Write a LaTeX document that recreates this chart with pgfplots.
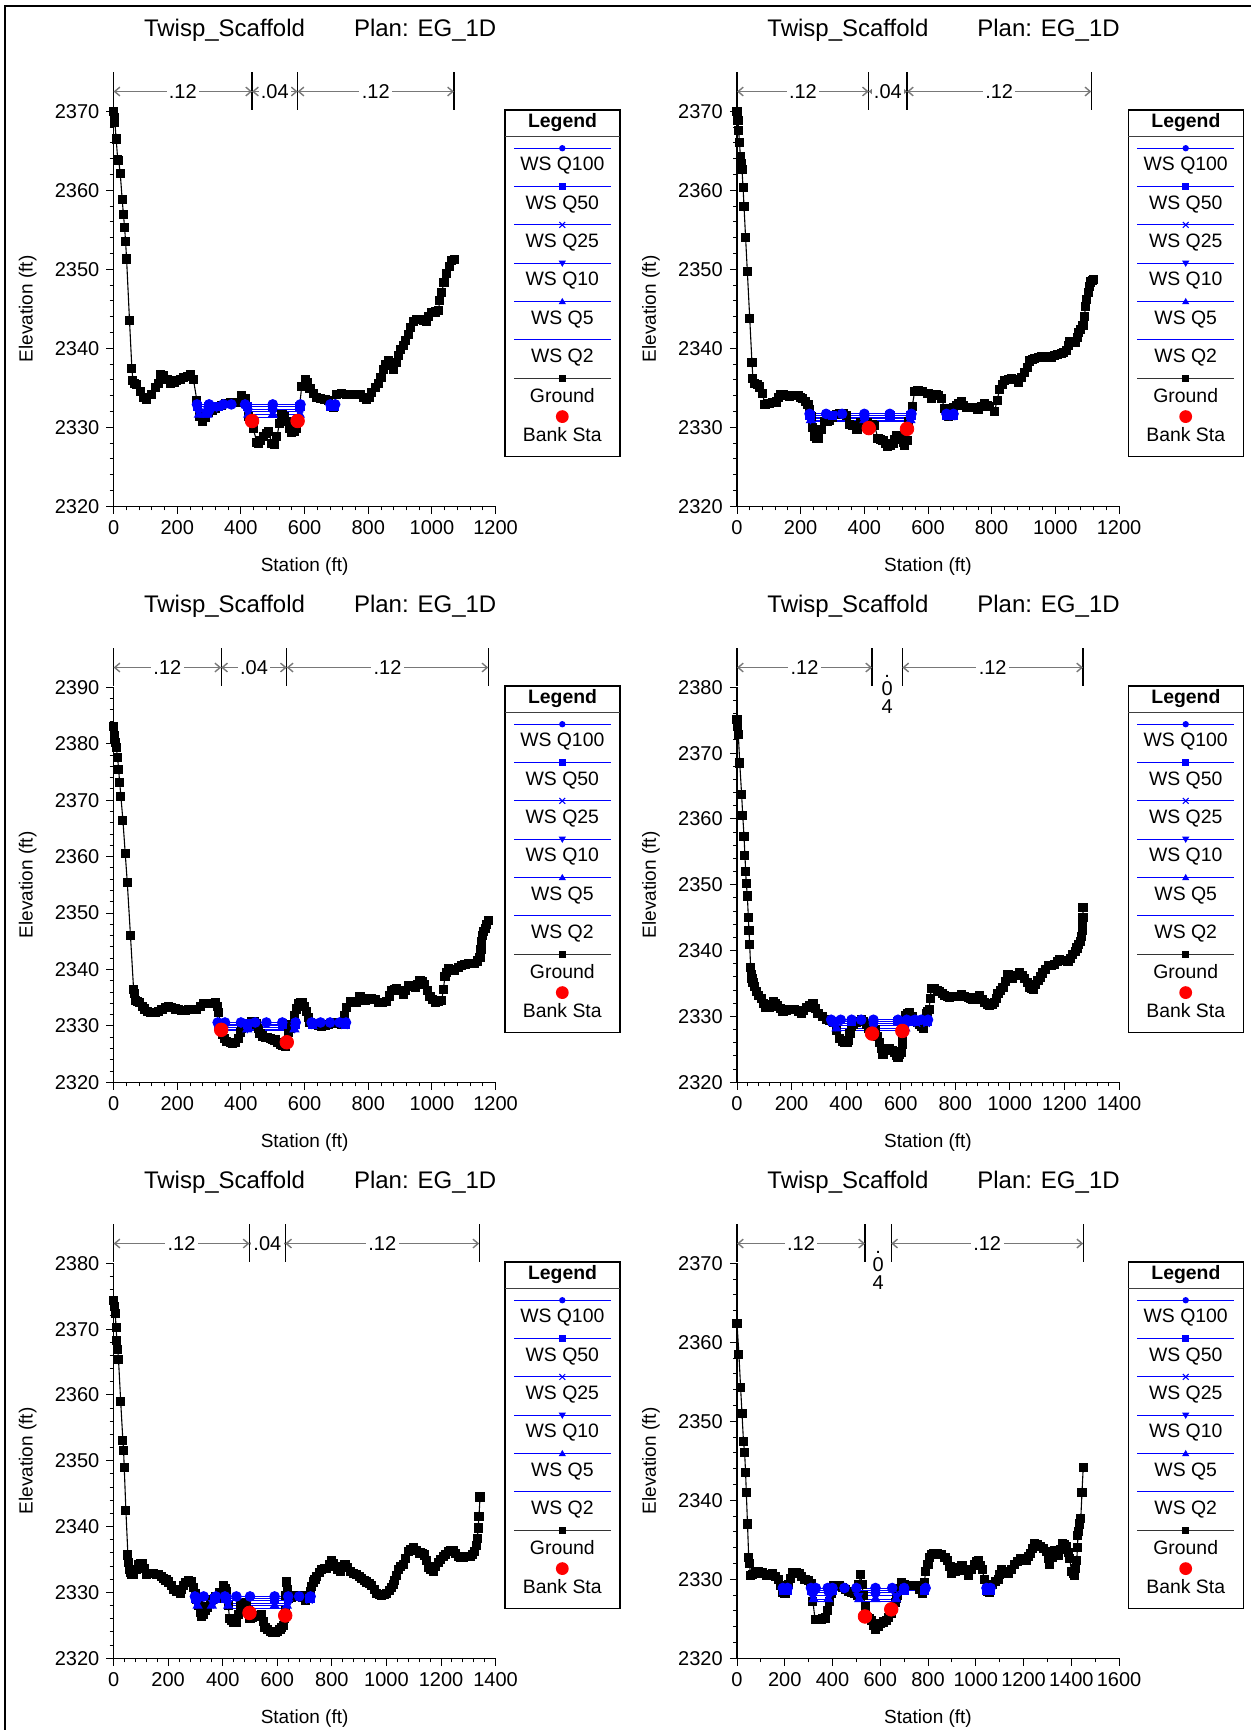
\documentclass[border=0pt]{standalone}
\usepackage{fontspec}
\setmainfont{Liberation Sans}
\usepackage{pgfplots}
\pgfplotsset{compat=1.18}
\usetikzlibrary{arrows.meta}

\definecolor{wsblue}{RGB}{0,0,255}
\definecolor{ngray}{RGB}{120,120,120}

\pgfplotsset{
  hec/.style={
    scale only axis, width=191pt, height=197.5pt,
    anchor=south west,
    axis lines*=left,
    xmin=0, ymin=2320,
    xtick distance=200, ytick distance=10,
    minor x tick num=4, minor y tick num=4,
    tick align=outside,
    major tick length=3.6pt, minor tick length=2pt,
    tick style={black, line width=0.5pt},
    axis line style={black, line width=0.6pt},
    ticklabel style={font=\fontsize{10}{12}\selectfont},
    /pgf/number format/assume math mode=true,
    /pgf/number format/1000 sep={},
    scaled ticks=false,
    xlabel={Station (ft)}, ylabel={Elevation (ft)},
    label style={font=\fontsize{9.5}{11}\selectfont},
    xlabel style={at={(axis description cs:0.5,-0.1537)}, anchor=center},
    ylabel style={at={(axis description cs:-0.2251,0.5)}, anchor=center},
    clip=false,
    unbounded coords=jump,
  },
  ground/.style={black, line width=0.55pt, mark=square*, mark size=2pt, mark options={solid}},
  bank/.style={only marks, mark=*, mark size=3.4pt, color=red},
  ws/.style={wsblue, line width=0.5pt, mark options={solid, fill=wsblue}},
  q100/.style={ws, mark=*, mark size=2.4pt},
  q50/.style={ws, mark=square*, mark size=2.1pt},
  q25/.style={ws, mark=x, mark size=2.2pt},
  q10/.style={ws, mark=triangle*, mark size=2.5pt, mark options={solid, fill=wsblue, rotate=180}},
  q5/.style={ws, mark=triangle*, mark size=2.5pt},
  q2/.style={ws, mark=none},
}
\tikzset{
  nline/.style={draw=ngray, line width=0.7pt,
    {Straight Barb[length=2.6pt,width=4.4pt]}-{Straight Barb[length=2.6pt,width=4.4pt]}},
  ntext/.style={fill=white, inner sep=1.2pt, text=black, font=\fontsize{10}{12}\selectfont},
}

% n-value boundary bar: station, ymax
\newcommand{\nbar}[2]{\draw[black, line width=0.6pt] ([yshift=0.7pt]axis cs:#1,#2) -- ([yshift=19.8pt]axis cs:#1,#2);}
% n-value section arrow: from, to, ymax, label
\newcommand{\nsec}[4]{\draw[nline] ([yshift=9.9pt]axis cs:#1,#3) -- node[ntext]{#4} ([yshift=9.9pt]axis cs:#2,#3);}
% narrow section, label stacked: centre station, ymax
\newcommand{\nnarrow}[2]{%
  \node[anchor=base, inner sep=0pt, font=\fontsize{10}{12}\selectfont] at ([yshift=4.9pt]axis cs:#1,#2) {.};
  \node[anchor=base, inner sep=0pt, font=\fontsize{10}{12}\selectfont] at ([yshift=-4.1pt]axis cs:#1,#2) {0};
  \node[anchor=base, inner sep=0pt, font=\fontsize{10}{12}\selectfont] at ([yshift=-13.1pt]axis cs:#1,#2) {4};}

\newcommand{\hectitle}[1]{%
  \node[anchor=base west, inner sep=0pt, font=\fontsize{12}{14}\selectfont] at ([xshift=15pt,yshift=37.3pt]#1.north west) {Twisp\_Scaffold};
  \node[anchor=base west, inner sep=0pt, font=\fontsize{12}{14}\selectfont] at ([xshift=120pt,yshift=37.3pt]#1.north west) {Plan: EG\_1D};}

\newcommand{\lgline}[2]{\draw[#2, line width=0.5pt] (4.5pt,-#1pt) -- (52.85pt,-#1pt);}
\newcommand{\lgtext}[2]{\node at (28.65pt,-#1pt) {#2};}

\newcommand{\heclegend}[1]{%
\begin{scope}[shift={(#1.north east)}, xshift=4.7pt, yshift=0.7pt, font=\fontsize{9.7}{11}\selectfont]
  \fill[white] (0,0) rectangle (57.5pt,-173.3pt);
  \draw[black, line width=0.6pt] (0,0) rectangle (57.5pt,-173.3pt);
  \draw[black!75, line width=0.6pt] (0,-13.35pt) -- (57.5pt,-13.35pt);
  \node[font=\bfseries\fontsize{9.7}{11}\selectfont] at (28.75pt,-6.3pt) {Legend};
  \lgline{19.15}{wsblue}  \fill[wsblue] (28.65pt,-19.15pt) circle (1.6pt);
  \lgtext{28}{WS Q100}
  \lgline{38.32}{wsblue}  \fill[wsblue] (27pt,-36.67pt) rectangle (30.3pt,-39.97pt);
  \lgtext{47.17}{WS Q50}
  \lgline{57.49}{wsblue}  \draw[wsblue, line width=0.5pt] (27.2pt,-56.04pt) -- (30.1pt,-58.94pt) (27.2pt,-58.94pt) -- (30.1pt,-56.04pt);
  \lgtext{66.34}{WS Q25}
  \lgline{76.66}{wsblue}  \fill[wsblue] (26.85pt,-75.4pt) -- (30.45pt,-75.4pt) -- (28.65pt,-78.5pt) -- cycle;
  \lgtext{85.51}{WS Q10}
  \lgline{95.83}{wsblue}  \fill[wsblue] (26.85pt,-97.1pt) -- (30.45pt,-97.1pt) -- (28.65pt,-94pt) -- cycle;
  \lgtext{104.68}{WS Q5}
  \lgline{115.0}{wsblue}
  \lgtext{123.85}{WS Q2}
  \lgline{134.17}{black!80}  \fill[black] (27pt,-132.52pt) rectangle (30.3pt,-135.82pt);
  \lgtext{143.02}{Ground}
  \fill[red] (28.65pt,-153.34pt) circle (3.2pt);
  \lgtext{162.19}{Bank Sta}
\end{scope}}

\begin{document}
\begin{tikzpicture}
\useasboundingbox (0,0) rectangle (625.5pt,-865pt);
\draw[black, line width=1pt] (2.5pt,-865pt) -- (2.5pt,-3pt) -- (625.5pt,-3pt);

% ---------------- panel 1 ----------------
\begin{axis}[hec, name=p1, at={(56.8pt,-253.15pt)}, xmax=1200, ymax=2370]
\addplot[ground] coordinates {
(0,2370)(2,2369.2)(4,2368.6)(8,2366.5)(13,2363.9)(16,2363.8)(21,2362.1)(27,2358.8)(31,2356.9)(34.5,2355.3)
(37.7,2353.5)(40.8,2351.3)(50,2343.5)(57.5,2337.4)(60.7,2335.9)(66,2335.6)(73,2335.4)(85,2334.5)(94,2333.8)
(104.6,2333.5)(118,2334.2)(131,2335.0)(140,2335.6)(146.5,2336.7)(157,2336.6)(168,2336)(178,2335.6)(190,2335.7)
(199,2335.9)(210,2336.1)(220,2336.3)(232,2336.4)(241,2336.7)(251,2336.0)(261.6,2333.4)(269,2331.4)(278,2330.7)
(288,2331.3)(298,2331.9)(309,2332.1)(319,2332.4)(330,2332.6)(340,2332.8)(353,2333)(366,2333.1)(377,2333.1)
(387,2333.1)(403,2334.0)(413,2333.6)(424,2331.4)(439,2329.8)(450,2328.1)(455,2327.9)(462,2328.3)(471,2328.8)
(480,2329.2)(487,2329.5)(497,2327.9)(505,2327.8)(513,2328.8)(521,2330.5)(529,2331.6)(536,2331.4)(544,2330.7)
(552,2329.9)(560,2329.3)(568,2329.5)(575,2329.8)(584,2332.6)(591,2335.2)(601.6,2336.0)(610,2335.7)(617,2334.9)
(627,2334.3)(638,2333.8)(650,2333.6)(664,2333.5)(675,2333.4)(683,2332.6)(692,2332.5)(701,2334.2)(715,2334.3)
(732,2334.2)(752,2334.1)(774,2334.1)(785,2333.8)(795,2333.5)(803,2333.8)(811,2334.4)(822,2335)(832,2335.6)
(840,2336.3)(847.5,2337.3)(855,2338)(863,2338.4)(871,2337.8)(879,2337.3)(887,2338.2)(894.5,2339.1)(902,2339.8)
(910,2340.3)(918,2341)(926,2341.7)(934,2342.6)(942,2343.4)(952,2343.6)(963,2343.6)(973,2343.5)(983,2343.4)
(990,2344)(999,2344.5)(1010,2344.6)(1020,2344.8)(1025,2346)(1030,2347.1)(1038,2348.3)(1046,2349.5)(1054,2350.4)
(1062,2351.1)(1072,2351.2)};
\addplot[q2] coordinates {(270,2331.2)(280,2331.2)(285,nan)(425,2331.2)(585,2331.2)};
\addplot[q5] coordinates {(268,2331.6)(285,2331.6)(295,2331.6)(300,nan)(423,2331.6)(500,2331.6)(585,2331.6)};
\addplot[q10] coordinates {(267,2332.0)(290,2332.0)(305,2332.0)(310,nan)(422,2332.0)(500,2332.0)(585,2332.0)};
\addplot[q25] coordinates {(266,2332.3)(290,2332.3)(316,2332.3)(320,nan)(421,2332.3)(500,2332.3)(586,2332.3)};
\addplot[q50] coordinates {(264,2332.6)(300,2332.6)(330,2332.6)(335,nan)(420,2332.6)(500,2332.6)(586,2332.6)(600,nan)(683,2332.6)(694,2332.6)};
\addplot[q100] coordinates {(262,2332.9)(300,2332.9)(345,2332.9)(370,2332.9)(413,2332.9)(500,2332.9)(587,2332.9)(600,nan)(681,2332.9)(696,2332.9)};
\addplot[bank] coordinates {(435,2330.8)(578,2330.8)};
\nbar{0}{2370}\nbar{435}{2370}\nbar{578}{2370}\nbar{1069}{2370}
\nsec{0}{435}{2370}{.12}\nsec{435}{578}{2370}{.04}\nsec{578}{1069}{2370}{.12}
\end{axis}

% ---------------- panel 2 ----------------
\begin{axis}[hec, name=p2, at={(368.5pt,-253.15pt)}, xmax=1200, ymax=2370]
\addplot[ground] coordinates {
(0,2370)(3,2368.8)(5,2367.6)(8,2366)(10.5,2364.3)(13,2363.4)(15.7,2362.6)(19,2360.4)(22,2358)(27,2354)
(32.5,2349.7)(40,2343.8)(47,2338.2)(50,2336.2)(55.5,2335.6)(63,2335.4)(71,2335.1)(79.6,2334.3)(88,2332.9)
(95,2333)(102.6,2333)(113,2333.1)(123.6,2333.2)(130,2333.8)(136,2334.2)(146,2334.1)(155,2334)(165,2333.9)
(178,2334)(191.6,2334)(200,2333.8)(207,2333.6)(215,2333.3)(223,2332.9)(228,2332.2)(233.5,2331.4)(238,2330)
(244,2328.8)(250,2328.6)(256.5,2328.6)(265,2329.7)(275,2330.7)(283,2330.8)(291,2330.9)(300,2331.2)(312,2331.6)
(322,2331.7)(333,2331.8)(343.5,2331.5)(352,2330.3)(364,2330.2)(377,2329.7)(387,2330.6)(401,2330.7)(409,2330.6)
(417,2330.4)(425,2330.3)(432,2330.2)(443,2328.6)(450,2328.5)(458.6,2328.3)(466,2328)(474,2327.6)(482,2327.7)
(490,2327.9)(496,2328.5)(502.6,2329)(509,2328.8)(516,2328.6)(522,2328.1)(527,2327.7)(534,2328.3)(538,2330.7)
(550,2332.6)(558,2334.5)(568.6,2334.6)(584,2334.5)(600,2334.3)(611,2333.6)(618,2334)(626,2334.2)(634,2334)
(642,2333.7)(652,2332.4)(663,2331.4)(673,2332.2)(681,2332.5)(689,2332.8)(697,2333)(705,2333.2)(712,2332.8)
(720,2332.5)(730,2332.5)(741,2332.5)(757,2332.3)(768,2332.6)(778,2333)(786,2332.8)(794,2332.6)(809,2332)
(817,2333.4)(825,2334.8)(833,2335.4)(841,2335.9)(852,2336.1)(862,2336.2)(873,2336)(883,2335.7)(894,2336.3)
(904,2336.9)(912,2337.6)(919,2338.4)(927,2338.6)(935,2338.7)(946,2338.8)(956,2338.9)(967,2338.9)(977,2338.8)
(988,2338.9)(998,2339.1)(1008,2339.2)(1019,2339.4)(1027,2339.5)(1034.6,2339.7)(1040,2340.3)(1045,2340.8)
(1055,2340.8)(1064,2340.8)(1069,2341.4)(1074,2342)(1080,2342.4)(1087,2342.9)(1091,2344)(1095,2345.3)
(1099,2346.2)(1103,2347.1)(1107,2347.8)(1111,2348.4)(1116,2348.6)(1120,2348.7)};
\addplot[q2] coordinates {(233,2330.7)(400,2330.7)(544,2330.7)};
\addplot[q5] coordinates {(232,2330.9)(400,2330.9)(545,2330.9)};
\addplot[q10] coordinates {(231,2331.1)(400,2331.1)(545,2331.1)};
\addplot[q25] coordinates {(230,2331.3)(400,2331.3)(546,2331.3)(600,nan)(661,2331.3)(676,2331.3)};
\addplot[q50] coordinates {(229,2331.5)(300,2331.5)(400,2331.5)(480,2331.5)(547,2331.5)(600,nan)(660,2331.5)(678,2331.5)};
\addplot[q100] coordinates {(228,2331.7)(280,2331.7)(330,2331.7)(400,2331.7)(480,2331.7)(548,2331.7)(600,nan)(658,2331.7)(680,2331.7)};
\addplot[bank] coordinates {(414,2329.9)(534,2329.8)};
\nbar{0}{2370}\nbar{414}{2370}\nbar{534}{2370}\nbar{1113}{2370}
\nsec{0}{414}{2370}{.12}\nsec{414}{534}{2370}{.04}\nsec{534}{1113}{2370}{.12}
\end{axis}

% ---------------- panel 3 ----------------
\begin{axis}[hec, name=p3, at={(56.8pt,-541.15pt)}, xmax=1200, ymax=2390]
\addplot[ground] coordinates {
(0,2383.1)(2,2381.5)(3,2380.7)(6,2380.2)(8.4,2379.3)(12.6,2377.5)(15.7,2375.5)(19,2373.2)(23,2370.6)(29.3,2366.4)
(36.6,2360.5)(43,2355.4)(53,2346)(62.8,2336.5)(65,2335.8)(68,2334.5)(75,2334.4)(81.6,2334.2)(90,2333.5)
(97.3,2333)(106,2332.6)(115,2332.4)(123,2332.3)(131,2332.4)(141,2332.6)(152,2332.9)(162,2333.2)(172.6,2333.4)
(183,2333.2)(193.6,2333)(204,2332.9)(214.5,2332.8)(225,2332.8)(235,2332.9)(248,2332.9)(261.6,2332.9)(272,2333.4)
(282.5,2333.9)(293,2334)(303.4,2333.9)(311,2334)(319,2334.1)(325,2333.4)(329.6,2332.4)(337,2329.9)(342,2328.5)
(347,2327.7)(356,2327.2)(366,2327)(374,2326.9)(382,2327)(392,2327.8)(398,2328.8)(403,2329.6)(410,2329.8)
(418.5,2329.9)(426,2330.3)(434,2330.8)(442,2330.7)(450,2330.4)(455,2329.6)(460,2328.6)(468,2328.2)(476,2328)
(484,2327.9)(491.7,2327.7)(500,2327.6)(507,2327.5)(515,2327.1)(523,2326.7)(531,2326.5)(539,2326.3)(544,2327.3)
(549,2328.9)(555,2329.6)(560,2330.3)(567,2331.9)(574,2333)(580.7,2333.9)(587,2334.1)(594,2334.2)(601,2333.5)
(607,2332.6)(612,2331.5)(617,2330.6)(625,2330.4)(633,2330.3)(643,2330.1)(654,2329.9)(665,2330.1)(675,2330.3)
(686,2330.5)(696,2330.6)(706,2330.5)(717,2330.3)(725,2331.8)(732,2333.2)(743,2334.3)(753,2334.2)(764,2334.2)
(774,2335.2)(782,2334.8)(790,2334.5)(800,2334.7)(811,2334.9)(822,2334.6)(832,2334.2)(845,2334.2)(858,2334.3)
(866,2335.3)(873.6,2336.2)(881,2336.4)(889,2336.6)(900,2336.2)(910,2335.5)(918,2336.3)(926,2337.1)(937,2337)
(947,2336.8)(955,2337.4)(962.5,2338.1)(970,2337.8)(978,2337.4)(986,2336.3)(994,2335.2)(1002,2334.6)(1010,2334.2)
(1020,2334.3)(1030.6,2334.5)(1036,2336.5)(1041,2338.8)(1046,2339.5)(1051.6,2340.1)(1062,2340)(1072,2339.8)
(1083,2340.3)(1093,2340.7)(1104,2340.9)(1114,2341.1)(1125,2341.1)(1135,2341.1)(1143,2341.5)(1151,2342.1)
(1154,2343.5)(1156,2345)(1160,2346)(1163,2346.8)(1167,2347.3)(1172,2348)(1177,2348.6)};
\addplot[q2] coordinates {(337,2329.1)(420,2329.1)(567,2329.1)};
\addplot[q5] coordinates {(335,2329.4)(420,2329.4)(568,2329.4)};
\addplot[q10] coordinates {(333,2329.7)(420,2329.7)(569,2329.7)};
\addplot[q25] coordinates {(331,2330.0)(420,2330.0)(570,2330.0)(600,nan)(630,2330.0)(725,2330.0)};
\addplot[q50] coordinates {(329,2330.3)(420,2330.3)(530,2330.3)(571,2330.3)(600,nan)(624,2330.3)(728,2330.3)};
\addplot[q100] coordinates {(327,2330.6)(350,2330.6)(400,2330.6)(445,2330.6)(480,2330.6)(530,2330.6)(572,2330.6)(600,nan)(622,2330.6)(650,2330.6)(680,2330.6)(710,2330.6)(730,2330.6)};
\addplot[bank] coordinates {(338,2329.3)(544,2327.1)};
\nbar{0}{2390}\nbar{338}{2390}\nbar{544}{2390}\nbar{1177}{2390}
\nsec{0}{338}{2390}{.12}\nsec{338}{544}{2390}{.04}\nsec{544}{1177}{2390}{.12}
\end{axis}

% ---------------- panel 4 ----------------
\begin{axis}[hec, name=p4, at={(368.5pt,-541.15pt)}, xmax=1400, ymax=2380]
\addplot[ground] coordinates {
(0,2375.1)(3,2374)(4.9,2372.8)(10,2368.5)(17,2363.7)(21,2360.5)(25.7,2357.4)(29,2354.5)(31.8,2352)(34,2350.2)
(38,2348.3)(41.5,2345.1)(44,2343)(46.4,2341)(50,2337.5)(52.5,2336.4)(55,2335.8)(58.6,2335.2)(64,2334.5)
(71,2333.8)(80,2333.2)(89,2332.7)(97,2332)(105,2331.3)(112,2331.3)(120,2331.3)(127,2331.8)(134,2332.3)
(142,2332)(150,2331.6)(160,2331.2)(168.6,2330.8)(180,2330.9)(193,2331)(202,2331)(211,2331)(224,2330.8)
(236,2330.5)(245,2330.9)(254,2331.3)(266,2331.6)(278.5,2331.9)(288,2331.2)(297,2330.5)(312,2330)(327,2329.6)
(340,2329.4)(352,2329.1)(364,2327.9)(376,2326.7)(385,2326.2)(394.6,2326)(403,2326.1)(410,2326.4)(414,2327.4)
(419,2328.5)(428,2328.8)(437,2329.1)(446,2329.3)(455.7,2329.5)(465,2329.2)(474,2328.8)(481,2328.2)(488.6,2327.6)
(498,2327.8)(508,2328)(515,2327)(523,2326)(529,2325.1)(535,2324.3)(547,2324.8)(559.5,2325.2)(569,2324.8)
(578,2324.5)(584,2324.1)(590,2323.8)(596,2324.2)(602,2324.6)(605,2325.8)(608,2327.1)(613,2328.6)(618,2330.2)
(625,2330.4)(633,2330.6)(642,2330)(651,2329.4)(660,2329.1)(669,2328.8)(677,2328.5)(684,2328.2)(689,2329.2)
(694,2330.4)(699,2330.8)(704,2331.1)(708,2332.7)(712,2334.3)(718,2334.3)(724,2334.3)(734,2334)(743,2333.8)
(752,2333.5)(761,2333.2)(770,2333)(779,2332.9)(800,2333.1)(822,2333.3)(835,2333.1)(847,2332.9)(856,2332.7)
(865,2332.6)(877,2332.9)(889,2333.2)(898,2332.6)(907.6,2332.1)(917,2331.9)(926,2331.7)(935,2331.9)(944,2332.1)
(950,2332.8)(956.5,2333.5)(966,2334)(975,2334.4)(984,2335.3)(993,2336.3)(1002,2336)(1011,2335.8)(1024,2336.2)
(1036,2336.7)(1045,2336.2)(1054,2335.8)(1063,2335.1)(1072.6,2334.4)(1079,2334.2)(1085,2334.1)(1094,2334.8)
(1103,2335.5)(1112,2336)(1121,2336.6)(1130,2337.1)(1140,2337.7)(1152,2337.8)(1164,2337.9)(1173,2338.3)
(1182.5,2338.7)(1198,2338.5)(1213,2338.3)(1222,2338.8)(1231,2339.4)(1239,2339.9)(1246,2340.4)(1252,2340.9)
(1258,2341.4)(1262,2342.2)(1266,2343.1)(1267,2344)(1268,2345.1)(1268,2346.5)};
\addplot[q2] coordinates {(372,2327.8)(500,2327.8)(616,2327.8)};
\addplot[q5] coordinates {(365,2328.2)(500,2328.2)(617,2328.2)};
\addplot[q10] coordinates {(360,2328.6)(500,2328.6)(618,2328.6)};
\addplot[q25] coordinates {(355,2328.9)(500,2328.9)(619,2328.9)(640,nan)(660,2328.9)(695,2328.9)};
\addplot[q50] coordinates {(350,2329.2)(420,2329.2)(500,2329.2)(590,2329.2)(620,2329.2)(640,nan)(655,2329.2)(698,2329.2)};
\addplot[q100] coordinates {(345,2329.5)(380,2329.5)(420,2329.5)(455,2329.5)(500,2329.5)(590,2329.5)(622,2329.5)(640,nan)(652,2329.5)(675,2329.5)(700,2329.5)};
\addplot[bank] coordinates {(495,2327.4)(606,2327.8)};
\nbar{0}{2380}\nbar{495}{2380}\nbar{606}{2380}\nbar{1268}{2380}
\nsec{0}{495}{2380}{.12}\nsec{606}{1268}{2380}{.12}
\nnarrow{550.5}{2380}
\end{axis}

% ---------------- panel 5 ----------------
\begin{axis}[hec, name=p5, at={(56.8pt,-829.15pt)}, xmax=1400, ymax=2380]
\addplot[ground] coordinates {
(0,2374.4)(3,2373.4)(6,2372.4)(9,2370.3)(12,2368.3)(15,2366.9)(18,2365.4)(26,2359)(34,2353.1)(36.6,2351.6)
(39,2349)(45,2342.5)(52.5,2335.7)(55,2334.5)(57.4,2333.5)(62,2333)(67,2332.7)(73,2332.7)(82,2333.5)(91.5,2334.3)
(98,2334.4)(104,2334.4)(113,2333.6)(122,2332.8)(134,2332.9)(146.5,2332.9)(156,2332.8)(165,2332.7)(174,2332.4)
(183,2332.1)(192,2331.9)(201,2331.6)(211,2331)(220,2330.5)(232,2330.2)(244,2329.9)(250,2330.5)(256,2331.1)
(265,2331.5)(274.6,2331.8)(281,2331.7)(287,2331.6)(293,2330.8)(299,2329.9)(305,2328.9)(311,2328)(317,2327)
(323.4,2326.3)(330,2326.7)(335.6,2327.2)(345,2327.8)(354,2328.3)(363,2328.9)(372,2329.4)(378,2329.1)(390,2330)
(403,2331)(409,2330.6)(415,2330.2)(420,2328)(425,2326.1)(432,2325.7)(439,2325.5)(445,2325.4)(451.6,2325.4)
(458,2326.7)(464,2328)(475,2328.3)(486,2328.5)(493,2327.3)(500,2326.1)(510,2326.2)(519,2326.3)(531,2326.5)
(543,2326.6)(549,2325.6)(555,2324.7)(564,2324.4)(573.7,2324.1)(583,2324)(592,2323.9)(601,2324.1)(610,2324.4)
(616,2324.7)(622.5,2325)(626,2326)(629,2327.2)(632,2329.5)(634.7,2331.6)(638,2330.4)(641,2329.1)(650,2329.3)
(659,2329.4)(671,2329.5)(683.5,2329.6)(693,2329.2)(702,2328.8)(711,2329.5)(720,2330.2)(726,2330.9)(732,2331.6)
(738,2332)(745,2332.4)(754,2333)(763,2333.5)(772,2333.6)(781,2333.6)(790,2334.3)(799.5,2334.9)(806,2334.4)
(811.7,2333.9)(820,2333.5)(830,2333.2)(839,2333.8)(848,2334.3)(857,2333.8)(866.6,2333.2)(879,2332.9)(891,2332.7)
(900,2332.4)(909,2332.1)(918,2331.8)(927.5,2331.6)(937,2331.3)(946,2331)(955,2330.5)(964,2329.9)(973,2329.7)
(982.5,2329.6)(992,2329.7)(1001,2329.9)(1010,2330.3)(1019,2330.7)(1025,2331.2)(1031,2331.8)(1037,2332.6)
(1043.6,2333.5)(1053,2333.9)(1062,2334.2)(1071,2335.2)(1080,2336.2)(1089,2336.5)(1098.5,2336.8)(1110,2336.4)
(1123,2336)(1132,2335.9)(1141,2335.7)(1147,2334.8)(1153,2333.8)(1162,2333.5)(1172,2333.2)(1181,2333.9)
(1190,2334.6)(1199,2335)(1208,2335.4)(1217,2335.8)(1227,2336.2)(1236,2336.3)(1245,2336.4)(1254,2335.9)
(1263,2335.4)(1272,2335.3)(1281.6,2335.3)(1294,2335.4)(1306,2335.5)(1315,2335.8)(1324,2336.2)(1329,2337.2)
(1333,2338.2)(1336,2339.8)(1339,2341.5)(1343,2344.5)};
\addplot[q2] coordinates {(310,2327.6)(355,2327.6)(390,nan)(422,2327.6)(590,2327.6)(632,2327.6)};
\addplot[q5] coordinates {(308,2328.0)(360,2328.0)(390,nan)(420,2328.0)(590,2328.0)(635,2328.0)};
\addplot[q10] coordinates {(305,2328.4)(365,2328.4)(390,nan)(418,2328.4)(590,2328.4)(640,2328.4)};
\addplot[q25] coordinates {(302,2328.8)(370,2328.8)(390,nan)(416,2328.8)(590,2328.8)(718,2328.8)};
\addplot[q50] coordinates {(300,2329.1)(372,2329.1)(390,nan)(412,2329.1)(590,2329.1)(720,2329.1)};
\addplot[q100] coordinates {(298,2329.4)(330,2329.4)(375,2329.4)(390,nan)(408,2329.4)(450,2329.4)(500,2329.4)(590,2329.4)(640,2329.4)(680,2329.4)(722,2329.4)};
\addplot[bank] coordinates {(498,2326.9)(629,2326.5)};
\nbar{0}{2380}\nbar{498}{2380}\nbar{629}{2380}\nbar{1340}{2380}
\nsec{0}{498}{2380}{.12}\nsec{498}{629}{2380}{.04}\nsec{629}{1340}{2380}{.12}
\end{axis}

% ---------------- panel 6 ----------------
\begin{axis}[hec, name=p6, at={(368.5pt,-829.15pt)}, xmax=1600, ymax=2370, minor x tick num=1]
\addplot[ground] coordinates {
(0,2362.4)(8,2358.5)(15,2354.3)(21,2351)(27,2347.5)(32,2346)(36,2343.5)(39,2341)(44,2337)(49,2332.8)(52,2332)
(57,2330.5)(65,2330.6)(78,2330.8)(91,2331)(108,2330.8)(125,2330.5)(138,2330.6)(150,2330.7)(161,2330.4)
(172,2330)(182,2329.2)(192,2328.4)(198,2328.2)(204,2328.2)(211,2328.8)(217.5,2329.3)(225,2330.1)(234,2330.9)
(247,2330.8)(260,2330.7)(272,2330.4)(285,2330)(298,2329.8)(310,2329.5)(318,2327.2)(327,2324.9)(340,2324.9)
(352,2324.9)(360,2325)(369,2325.1)(378,2326.1)(386,2327.2)(395,2328.2)(403,2329.2)(415,2329.2)(428,2329.2)
(441,2329)(453.5,2328.7)(466,2328.5)(479,2328.4)(491,2328.2)(504,2328)(511,2329.3)(518,2330.6)(524,2329.3)
(529,2328)(537,2326.6)(546,2325.2)(555,2325)(563,2324.8)(571,2324.2)(580,2323.6)(591,2324)(602,2324.4)
(614,2324.6)(625.5,2324.8)(636,2325.2)(647,2325.7)(656,2326.4)(664,2327.1)(669,2327.6)(673,2328)(681,2328.8)
(690,2329.6)(702,2329.4)(715,2329.2)(732,2329.2)(749,2329.2)(763,2328.7)(777,2328.2)(784,2329.6)(791,2331)
(800,2331.9)(808,2332.8)(816,2333.1)(824.5,2333.3)(841,2333.2)(858,2333.1)(871,2332.8)(883.5,2332.4)(892,2331.6)
(900,2330.8)(913,2331)(925.6,2331.2)(934,2331.5)(942.5,2331.7)(955,2331.1)(968,2330.5)(980,2331.2)(993,2331.9)
(1002,2332.2)(1010,2332.4)(1018,2331.8)(1027,2331.2)(1036,2330)(1044,2328.7)(1050,2328.5)(1057,2328.4)
(1063,2328.9)(1069,2329.4)(1081,2329.7)(1094,2330)(1101,2330.6)(1108,2331.2)(1122,2331)(1136,2330.7)
(1149,2331.3)(1162,2331.9)(1175,2332.3)(1187,2332.6)(1200,2332.5)(1212,2332.4)(1220,2332.9)(1229,2333.3)
(1237,2333.9)(1246,2334.5)(1258,2334.4)(1271,2334.2)(1284,2333.9)(1297,2333.5)(1304,2332.7)(1310,2331.9)
(1320,2332.8)(1330,2333.7)(1338,2333.4)(1347,2333)(1355,2333.8)(1364,2334.5)(1372,2334.4)(1381,2334.2)
(1388,2333.4)(1394,2332.6)(1401,2331)(1408,2330.8)(1415,2330.5)(1419,2331.4)(1423,2332.4)(1426,2334)
(1428,2335.6)(1432,2336)(1436,2337)(1440,2337.7)(1445,2341)(1450,2344.1)};
\addplot[q2] coordinates {(324,2327.2)(378,2327.2)(400,nan)(515,2327.2)(580,2327.2)(664,2327.2)};
\addplot[q5] coordinates {(321,2327.5)(382,2327.5)(400,nan)(512,2327.5)(580,2327.5)(666,2327.5)};
\addplot[q10] coordinates {(318,2327.9)(385,2327.9)(400,nan)(508,2327.9)(580,2327.9)(668,2327.9)};
\addplot[q25] coordinates {(314,2328.3)(390,2328.3)(400,nan)(505,2328.3)(580,2328.3)(672,2328.3)};
\addplot[q50] coordinates {(195,2328.6)(210,2328.6)(250,nan)(312,2328.6)(400,2328.6)(580,2328.6)(700,2328.6)(785,2328.6)(900,nan)(1047,2328.6)(1060,2328.6)};
\addplot[q100] coordinates {(192,2328.9)(212,2328.9)(250,nan)(310,2328.9)(330,2328.9)(380,2328.9)(400,2328.9)(450,2328.9)(500,2328.9)(580,2328.9)(650,2328.9)(700,2328.9)(790,2328.9)(900,nan)(1045,2328.9)(1062,2328.9)};
\addplot[bank] coordinates {(536,2325.3)(646,2326.2)};
\nbar{0}{2370}\nbar{536}{2370}\nbar{646}{2370}\nbar{1450}{2370}
\nsec{0}{536}{2370}{.12}\nsec{646}{1450}{2370}{.12}
\nnarrow{591}{2370}
\end{axis}

\hectitle{p1}\hectitle{p2}\hectitle{p3}\hectitle{p4}\hectitle{p5}\hectitle{p6}
\heclegend{p1}\heclegend{p2}\heclegend{p3}\heclegend{p4}\heclegend{p5}\heclegend{p6}
\end{tikzpicture}
\end{document}
